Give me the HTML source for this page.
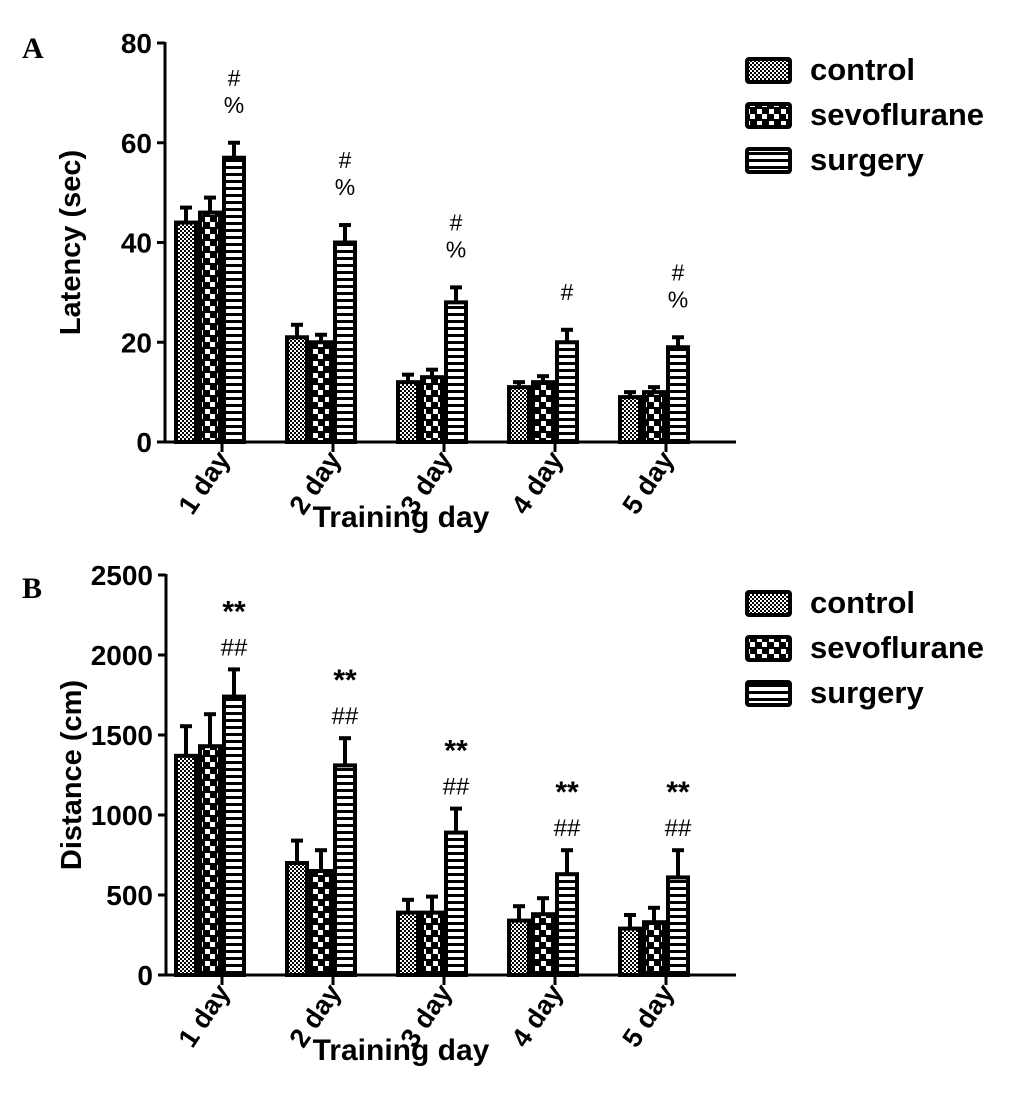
<!DOCTYPE html>
<html><head><meta charset="utf-8"><style>
html,body{margin:0;padding:0;background:#fff}
svg{display:block}
text{font-family:"Liberation Sans",Arial,sans-serif;font-weight:bold;fill:#000}
</style></head><body>
<svg id="chart" width="1033" height="1098" viewBox="0 0 1033 1098" xmlns="http://www.w3.org/2000/svg">
<defs>
<pattern id="pCtrl" width="4" height="4" patternUnits="userSpaceOnUse"><rect width="4" height="4" fill="#000"/><rect x="0" y="0" width="2" height="2" fill="#fff"/><rect x="2" y="2" width="2" height="2" fill="#fff"/></pattern>
<pattern id="pSevo" width="12" height="12" patternUnits="userSpaceOnUse"><rect width="12" height="12" fill="#000"/><rect x="1" y="1" width="5" height="5" fill="#fff"/><rect x="6" y="6" width="5" height="5" fill="#fff"/></pattern>
<pattern id="pSurg" width="20" height="7" patternUnits="userSpaceOnUse"><rect width="20" height="7" fill="#000"/><rect x="0" y="1" width="20" height="4" fill="#fff"/></pattern>
</defs>
<text x="22" y="58" style="font-family:'Liberation Serif',serif;font-size:30px">A</text>
<text x="22" y="598" style="font-family:'Liberation Serif',serif;font-size:30px">B</text>
</svg>
<script>
const categories = ["1 day","2 day","3 day","4 day","5 day"];
const seriesNames = ["control","sevoflurane","surgery"];
const latencyControl = [44,21,12,11,9];
const latencySevo = [46,20,13,12,10];
const latencySurgery = [57,40,28,20,19];
const latencyErrControl = [3,2.5,1.5,1,1];
const latencyErrSevo = [3,1.5,1.5,1.2,1];
const latencyErrSurgery = [3,3.5,3,2.5,2];
const latencyTicks = [0,20,40,60,80];
const latencyMarks = [["#","%"],["#","%"],["#","%"],["#"],["#","%"]];
const distControl = [1370,700,390,340,290];
const distSevo = [1430,650,390,380,330];
const distSurgery = [1740,1310,890,630,610];
const distErrControl = [185,140,80,90,85];
const distErrSevo = [200,130,100,100,90];
const distErrSurgery = [170,170,150,150,170];
const distTicks = [0,500,1000,1500,2000,2500];
const distMarks = [["**","##"],["**","##"],["**","##"],["**","##"],["**","##"]];

const svg = document.getElementById('chart');
const NS = 'http://www.w3.org/2000/svg';
function mk(tag, attrs, parent){const e=document.createElementNS(NS,tag);for(const k in attrs)e.setAttribute(k,attrs[k]);(parent||svg).appendChild(e);return e;}
const fills = ['url(#pCtrl)','url(#pSevo)','url(#pSurg)'];

function panel(o){
  const g = mk('g',{});
  
  
  const y = v => o.y0 - (v/o.max)*(o.y0-o.yTop);
  const xc = i => 222 + i*111;
  const offs = [-46,-22,2];
  const ya = mk('line',{x1:o.ax,y1:o.yTop-1,x2:o.ax,y2:o.y0+1.5,stroke:'#000','stroke-width':3},g);
  
  
  const xa = mk('line',{x1:o.ax-1.5,y1:o.y0,x2:736,y2:o.y0,stroke:'#000','stroke-width':3},g);
  
  
  o.ticks.forEach(t=>{
    mk('line',{x1:o.ax-8,y1:y(t),x2:o.ax,y2:y(t),stroke:'#000','stroke-width':3},g);
    const tl = mk('text',{x:o.ax-13,y:y(t)+10,'text-anchor':'end','font-size':28},g);
    tl.textContent = t;
    
    
  });
  const yt = mk('text',{x:0,y:0,'text-anchor':'middle','font-size':29,transform:`translate(${o.ax-85},${(o.y0+o.yTop)/2}) rotate(-90)`},g);
  yt.textContent = o.ytitle;
  
  
  categories.forEach((c,i)=>{
    const x = xc(i);
    mk('line',{x1:x,y1:o.y0,x2:x,y2:o.y0+10,stroke:'#000','stroke-width':3},g);
    const cl = mk('text',{x:0,y:0,'text-anchor':'end','font-size':27,transform:`translate(${x+9},${o.y0+17}) rotate(-56)`},g);
    cl.textContent = c;
    
    
    o.vals.forEach((arr,s)=>{
      const v = arr[i], e = o.errs[s][i];
      const bx = x+offs[s], bw = 20;
      const top = y(v), et = y(v+e);
      const el = mk('line',{x1:bx+bw/2,y1:et,x2:bx+bw/2,y2:top,stroke:'#000','stroke-width':4},g);
      
      
      mk('line',{x1:bx+bw/2-6,y1:et,x2:bx+bw/2+6,y2:et,stroke:'#000','stroke-width':4},g);
      const r = mk('rect',{x:bx,y:top,width:bw,height:o.y0-top,fill:fills[s],stroke:'#000','stroke-width':4},g);
      
      
    });
    const sx = x+offs[2]+10;
    let ty = y(o.vals[2][i]+o.errs[2][i]) - o.markOff;
    const marks = o.marks[i].slice().reverse();
    marks.forEach(m=>{
      const mt = mk('text',{x:sx,y:m==='**'?ty+6:ty,'text-anchor':'middle','font-size':m==='**'?o.markSize+6:o.markSize,style:m==='**'?'':'font-weight:normal'},g);
      mt.textContent = m;
      
      
      ty -= o.markGap;
    });
  });
  const xt = mk('text',{x:401,y:o.y0+85,'text-anchor':'middle','font-size':30},g);
  xt.textContent = 'Training day';
  
  
  seriesNames.forEach((n,s)=>{
    const ly = o.legY + s*45;
    const lb = mk('rect',{x:747,y:ly,width:43,height:23,rx:2,fill:fills[s],stroke:'#000','stroke-width':4},g);
    
    
    const lt = mk('text',{x:810,y:ly+21,'font-size':31},g);
    lt.textContent = n;
    
    
  });
}
panel({name:'panel-a-latency',ax:165,y0:442,yTop:43,max:80,ticks:latencyTicks,ytitle:'Latency (sec)',
  vals:[latencyControl,latencySevo,latencySurgery],errs:[latencyErrControl,latencyErrSevo,latencyErrSurgery],
  marks:latencyMarks,legY:59,markSize:23,markGap:27,markOff:30});
panel({name:'panel-b-distance',ax:166,y0:975,yTop:575,max:2500,ticks:distTicks,ytitle:'Distance (cm)',
  vals:[distControl,distSevo,distSurgery],errs:[distErrControl,distErrSevo,distErrSurgery],
  marks:distMarks,legY:592,markSize:24,markGap:40,markOff:14});
</script>
</body></html>
